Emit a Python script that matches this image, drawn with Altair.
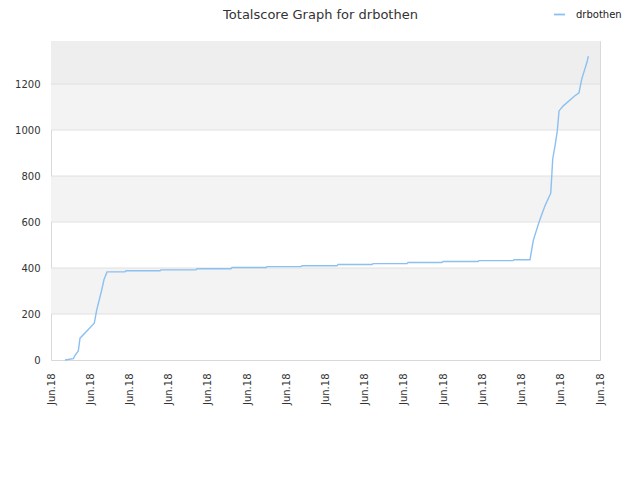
import altair as alt
import pandas as pd

# ---- data ----
x_pos = [0.357, 0.569, 0.612, 0.696, 0.740, 1.104, 1.165, 1.250, 1.293, 1.352,
         1.428, 1.887, 1.913, 2.780, 2.805, 3.698, 3.723, 4.590, 4.616, 5.483,
         5.508, 6.376, 6.401, 7.293, 7.319, 8.186, 8.211, 9.078, 9.104, 9.971,
         9.996, 10.889, 10.914, 11.782, 11.807, 12.215, 12.299, 12.452, 12.597,
         12.743, 12.768, 12.794, 12.853, 12.911, 12.955, 13.064, 13.353, 13.464,
         13.533, 13.676, 13.702]
score = [0, 6, 20, 39, 95, 160, 217, 275, 304, 350,
         383, 383, 388, 388, 392, 392, 397, 397, 402, 402,
         406, 406, 410, 410, 415, 415, 419, 419, 424, 424,
         428, 428, 432, 432, 436, 436, 520, 603, 671,
         725, 794, 874, 931, 996, 1083, 1105, 1148, 1162,
         1220, 1300, 1321]
series_name = "drbothen"

band_lo = [200, 600, 1000, 1200]
band_hi = [400, 800, 1200, 1387]
band_color = ["#f3f3f3", "#f3f3f3", "#f3f3f3", "#eeeeee"]
grid_values = [200, 400, 600, 800, 1000, 1200]
y_ticks = [0, 200, 400, 600, 800, 1000, 1200]
x_ticks = list(range(15))
x_tick_label = "Jun.18"
y_max = 1387
x_max = 14

FONT = "DejaVu Sans"

line_df = pd.DataFrame({"x": x_pos, "score": score, "series": series_name})
band_df = pd.DataFrame({"lo": band_lo, "hi": band_hi, "c": band_color})
grid_df = pd.DataFrame({"g": grid_values})

yscale = alt.Scale(domain=[0, y_max], nice=False, zero=True)
xscale = alt.Scale(domain=[0, x_max], nice=False, zero=True)

y_axis = alt.Axis(values=y_ticks, format="d", ticks=False, grid=False, domain=False,
                  labelPadding=11, title=None, labelFont=FONT,
                  labelFontSize=10, labelColor="#333333")
x_axis = alt.Axis(values=x_ticks, labelExpr="'" + x_tick_label + "'",
                  labelAngle=270, labelAlign="right", labelBaseline="middle",
                  labelPadding=13, ticks=False, grid=False, domain=False,
                  labelOverlap=False, labelFlush=False, title=None,
                  labelFont=FONT, labelFontSize=10, labelColor="#333333")

bands = alt.Chart(band_df).mark_rect().encode(
    x=alt.value(0),
    x2=alt.value(549),
    y=alt.Y("lo:Q", scale=yscale, axis=y_axis),
    y2="hi:Q",
    color=alt.Color("c:N", scale=None, legend=None),
)

grid = alt.Chart(grid_df).mark_rule(color="#e0e0e0", strokeWidth=1).encode(
    x=alt.value(0),
    x2=alt.value(549),
    y=alt.Y("g:Q", scale=yscale, axis=y_axis),
)

line = alt.Chart(line_df).mark_line(strokeWidth=1.4, interpolate="linear").encode(
    x=alt.X("x:Q", scale=xscale, axis=x_axis),
    y=alt.Y("score:Q", scale=yscale, axis=y_axis),
    stroke=alt.Stroke("series:N",
                      scale=alt.Scale(domain=[series_name], range=["#8cc0f0"]),
                      legend=alt.Legend(title=None, orient="none", legendX=502, legendY=-33,
                                        symbolType="stroke", symbolSize=121,
                                        symbolStrokeWidth=1.8, labelOffset=10,
                                        labelFont=FONT, labelFontSize=10,
                                        labelColor="#222222", padding=0)),
)

chart = alt.layer(bands, grid, line).properties(
    width=549,
    height=319,
    autosize=alt.AutoSizeParams(type="none"),
    padding={"left": 43, "top": 33, "right": 24, "bottom": 104},
    title=alt.TitleParams("Totalscore Graph for drbothen", font=FONT, fontSize=13,
                          fontWeight="normal", color="#333333", anchor="middle",
                          frame="group", dx=-5, dy=14, offset=0),
).configure_view(stroke="#d9d9d9", strokeWidth=1)

chart.save("out.html", embed_options={"renderer": "svg", "actions": False})
